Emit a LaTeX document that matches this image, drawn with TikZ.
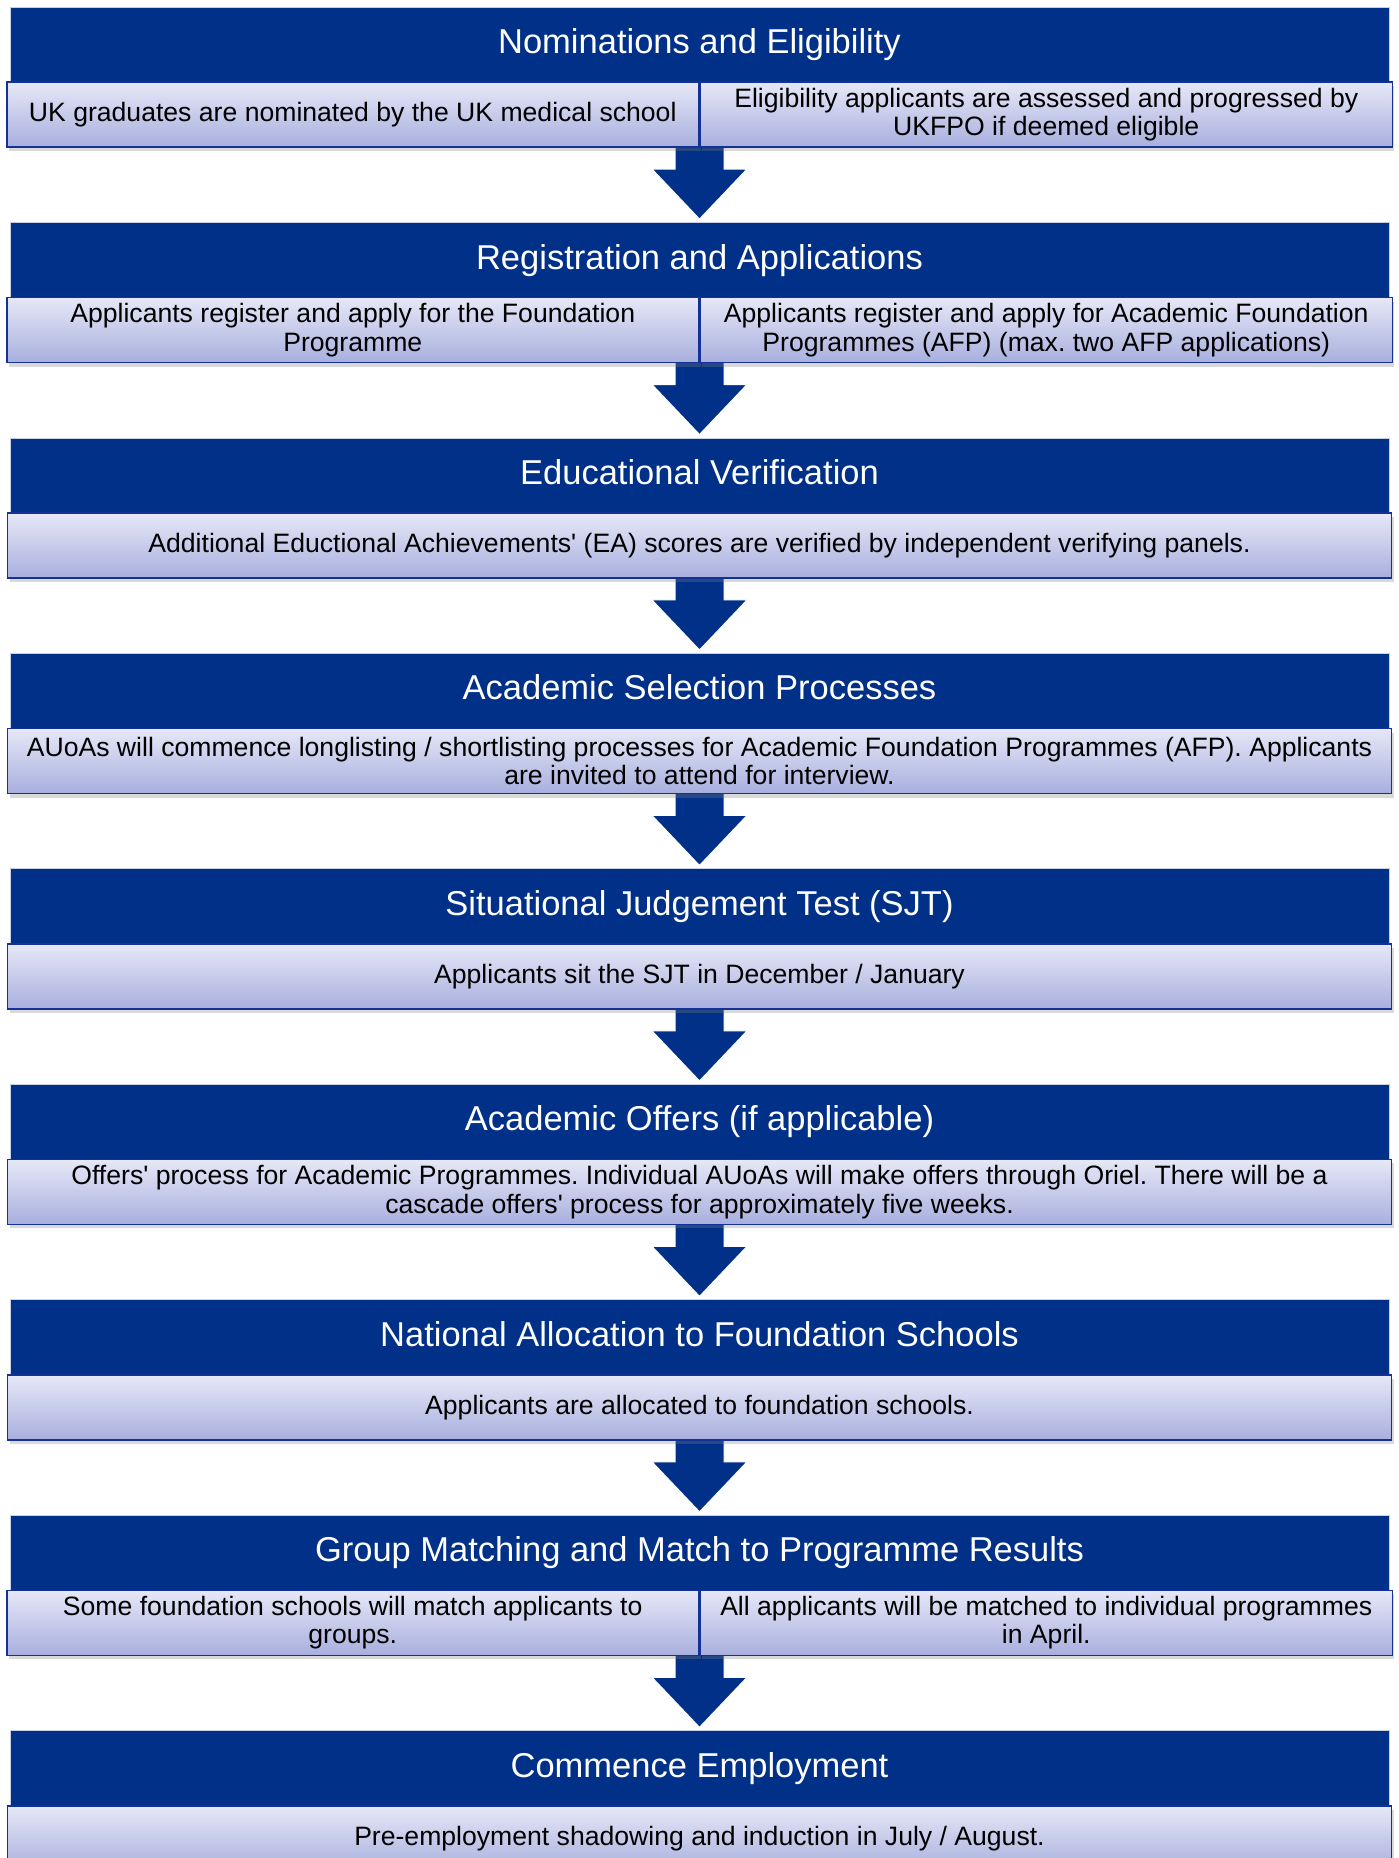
\documentclass[tikz,border=0pt]{standalone}
\usepackage{fontspec}
\setmainfont{Liberation Sans}
\usetikzlibrary{positioning,calc,shadows,backgrounds}
\definecolor{navy}{RGB}{0,48,135}
\definecolor{celltop}{RGB}{230,232,247}
\definecolor{cellbottom}{RGB}{168,175,222}
\definecolor{cellline}{RGB}{20,50,150}
\definecolor{headline}{RGB}{200,208,230}
\frenchspacing

\begin{document}
\begin{tikzpicture}[x=1pt, y=-1pt,
  stage/.style = {fill=navy, draw=headline, line width=0.8pt, text=white,
    inner sep=0pt, minimum width=1379pt, minimum height=75pt,
    text height=25.3pt, text depth=7.2pt,
    font=\fontsize{34.5}{40}\selectfont},
  cell/.style = {top color=celltop, bottom color=cellbottom, draw=cellline,
    line width=1.5pt, inner sep=0pt, minimum height=65pt, align=center,
    font=\fontsize{26.6}{28.4}\selectfont,
    drop shadow={shadow xshift=2pt, shadow yshift=-4pt, opacity=0.3}},
  wide/.style = {cell, minimum width=1384pt},
  half/.style = {cell, minimum width=692pt},
  flow/.style = {fill=navy, draw=white, line width=1pt, to path={
    let \p1=(\tikztostart.south), \p2=(\tikztotarget.north) in
    (\x1-24.5pt,\y1) -- (\x1-24.5pt,\y2+53pt) -- (\x1-47.5pt,\y2+53pt)
    -- (\x1,\y2+3pt) -- (\x1+47.5pt,\y2+53pt) -- (\x1+24.5pt,\y2+53pt)
    -- (\x1+24.5pt,\y1) -- cycle}}]
  \useasboundingbox (0,0) rectangle (1399,1858);

  \node[stage] (h1) at (699.5,44.5) {Nominations and Eligibility};
  \node[half, anchor=north east] (s1a) at ([yshift=1pt]h1.south)
    {UK graduates are nominated by the UK medical school};
  \node[half, anchor=north west] (s1b) at ([yshift=1pt]h1.south)
    {Eligibility applicants are assessed and progressed by\\UKFPO if deemed eligible};

  \node[stage] (h2) at (699.5,259.96) {Registration and Applications};
  \node[half, anchor=north east] (s2a) at ([yshift=1pt]h2.south)
    {Applicants register and apply for the Foundation\\Programme};
  \node[half, anchor=north west] (s2b) at ([yshift=1pt]h2.south)
    {Applicants register and apply for Academic Foundation\\Programmes (AFP) (max. two AFP applications)};

  \node[stage] (h3) at (699.5,475.42) {Educational Verification};
  \node[wide, below=-1pt of h3] (s3)
    {Additional Eductional Achievements\textquotesingle{} (EA) scores are verified by independent verifying panels.};

  \node[stage] (h4) at (699.5,690.88) {Academic Selection Processes};
  \node[wide, below=-1pt of h4] (s4)
    {AUoAs will commence longlisting / shortlisting processes for Academic Foundation Programmes (AFP). Applicants\\are invited to attend for interview.};

  \node[stage] (h5) at (699.5,906.34) {Situational Judgement Test (SJT)};
  \node[wide, below=-1pt of h5] (s5)
    {Applicants sit the SJT in December / January};

  \node[stage] (h6) at (699.5,1121.8) {Academic Offers (if applicable)};
  \node[wide, below=-1pt of h6] (s6)
    {Offers\textquotesingle{} process for Academic Programmes. Individual AUoAs will make offers through Oriel. There will be a\\cascade offers\textquotesingle{} process for approximately five weeks.};

  \node[stage] (h7) at (699.5,1337.26) {National Allocation to Foundation Schools};
  \node[wide, below=-1pt of h7] (s7)
    {Applicants are allocated to foundation schools.};

  \node[stage] (h8) at (699.5,1552.72) {Group Matching and Match to Programme Results};
  \node[half, anchor=north east] (s8a) at ([yshift=1pt]h8.south)
    {Some foundation schools will match applicants to\\groups.};
  \node[half, anchor=north west] (s8b) at ([yshift=1pt]h8.south)
    {All applicants will be matched to individual programmes\\in April.};

  \node[stage] (h9) at (699.5,1768.18) {Commence Employment};
  \node[wide, below=-1pt of h9] (s9)
    {Pre-employment shadowing and induction in July / August.};

  % arrows between the stages
  \begin{scope}[on background layer]
    \path[flow] (h1) to (h2);
    \path[flow] (h2) to (h3);
    \path[flow] (h3) to (h4);
    \path[flow] (h4) to (h5);
    \path[flow] (h5) to (h6);
    \path[flow] (h6) to (h7);
    \path[flow] (h7) to (h8);
    \path[flow] (h8) to (h9);
  \end{scope}
\end{tikzpicture}
\end{document}
